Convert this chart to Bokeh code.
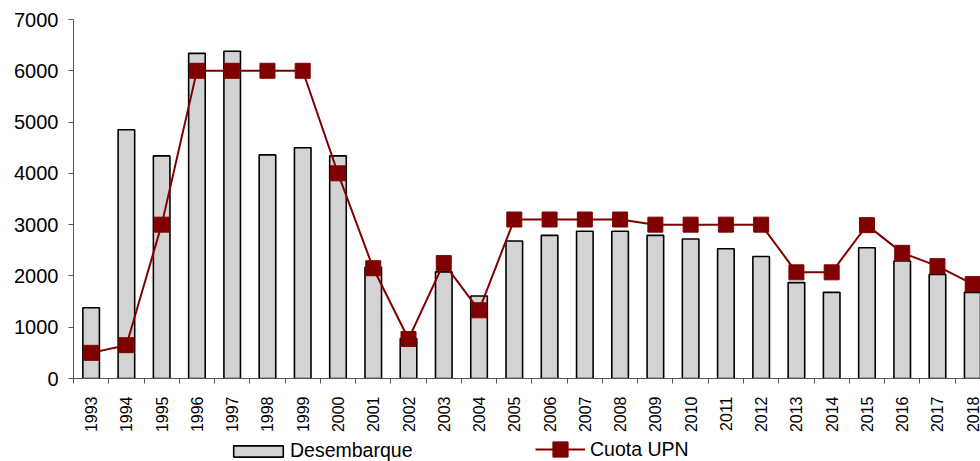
import numpy as np
from bokeh.plotting import figure
from bokeh.layouts import column
from bokeh.models import Range1d, FixedTicker, Legend, LegendItem
from bokeh.embed import file_html
from bokeh.resources import INLINE

years = ["1993", "1994", "1995", "1996", "1997", "1998", "1999", "2000", "2001",
         "2002", "2003", "2004", "2005", "2006", "2007", "2008", "2009", "2010",
         "2011", "2012", "2013", "2014", "2015", "2016", "2017", "2018"]
desembarque = [1380, 4850, 4340, 6340, 6380, 4360, 4500, 4340, 2170, 780, 2080,
               1610, 2680, 2790, 2870, 2870, 2790, 2720, 2530, 2380, 1870, 1680,
               2550, 2290, 2030, 1680]
cuota_upn = [500, 650, 3000, 6000, 6000, 6000, 6000, 4000, 2150, 770, 2250, 1330,
             3100, 3100, 3100, 3100, 3000, 3000, 3000, 3000, 2070, 2070, 2990,
             2450, 2190, 1840]
y_ticks = [0, 1000, 2000, 3000, 4000, 5000, 6000, 7000]

idx = list(range(len(years)))
FONT = "Liberation Sans"
BAR_STYLE = dict(fill_color="#d3d3d3", line_color="black", line_width=1.6)
LINE_STYLE = dict(line_color="#800000", line_width=2)
MARK_STYLE = dict(marker="square", size=15, fill_color="#800000", line_color="#800000")

p = figure(width=980, height=435, output_backend="svg", toolbar_location=None,
           x_range=Range1d(-0.5, 25.22), y_range=Range1d(0, 7000),
           min_border_left=73, min_border_right=0, min_border_top=19,
           min_border_bottom=57)
p.outline_line_color = None
p.xgrid.visible = False
p.ygrid.visible = False

bars = p.vbar(x=idx, top=desembarque, width=0.47, **BAR_STYLE)
ln = p.line(idx, cuota_upn, **LINE_STYLE)
mk = p.scatter(idx, cuota_upn, **MARK_STYLE)

# x axis
p.xaxis.ticker = FixedTicker(ticks=idx, minor_ticks=[i - 0.5 for i in range(len(years) + 1)])
p.xaxis.major_label_overrides = {i: y for i, y in zip(idx, years)}
p.xaxis.major_label_orientation = np.pi / 2
p.xaxis.major_tick_out = 0
p.xaxis.major_tick_in = 0
p.xaxis.minor_tick_out = 5
p.xaxis.minor_tick_in = 0
p.xaxis.major_label_standoff = 13
p.xaxis.major_label_text_font = FONT
p.xaxis.major_label_text_font_size = "16px"
p.xaxis.major_label_text_color = "black"
p.xaxis.axis_line_color = "#555555"
p.xaxis.minor_tick_line_color = "#555555"

# y axis
p.yaxis.ticker = FixedTicker(ticks=y_ticks)
p.yaxis.minor_tick_line_color = None
p.yaxis.major_tick_out = 5
p.yaxis.major_tick_in = 0
p.yaxis.major_label_standoff = 10
p.yaxis.major_label_text_font = FONT
p.yaxis.major_label_text_font_size = "20px"
p.yaxis.major_label_text_color = "black"
p.yaxis.axis_line_color = "#555555"
p.yaxis.major_tick_line_color = "#555555"

# legend strip: the same series as hidden renderers, only their legend keys show
lg = figure(width=980, height=26, output_backend="svg", toolbar_location=None,
            x_range=Range1d(-0.5, 25.22), y_range=Range1d(0, 7000),
            x_axis_location=None, y_axis_location=None,
            min_border_left=0, min_border_right=0, min_border_top=0,
            min_border_bottom=0)
lg.grid.visible = False
lg.outline_line_color = None
kb = lg.vbar(x=idx, top=desembarque, width=0.47, visible=False, **BAR_STYLE)
kl = lg.line(idx, cuota_upn, visible=False, **LINE_STYLE)
km = lg.scatter(idx, cuota_upn, visible=False, **MARK_STYLE)

common = dict(orientation="horizontal", padding=0, margin=0, border_line_color=None,
              background_fill_alpha=0, label_text_color="black",
              label_text_font=FONT, label_text_font_size="19.5px")
legend1 = Legend(items=[LegendItem(label="Desembarque", renderers=[kb])],
                 location=(154, -1), glyph_width=62, glyph_height=14,
                 label_standoff=1, **common)
legend2 = Legend(items=[LegendItem(label="Cuota UPN", renderers=[kl, km])],
                 location=(462, -7), glyph_width=50, glyph_height=38,
                 label_standoff=5, **common)
lg.add_layout(legend1, "center")
lg.add_layout(legend2, "center")

layout = column(p, lg, spacing=0)
open("out.html", "w").write(file_html(layout, INLINE))
